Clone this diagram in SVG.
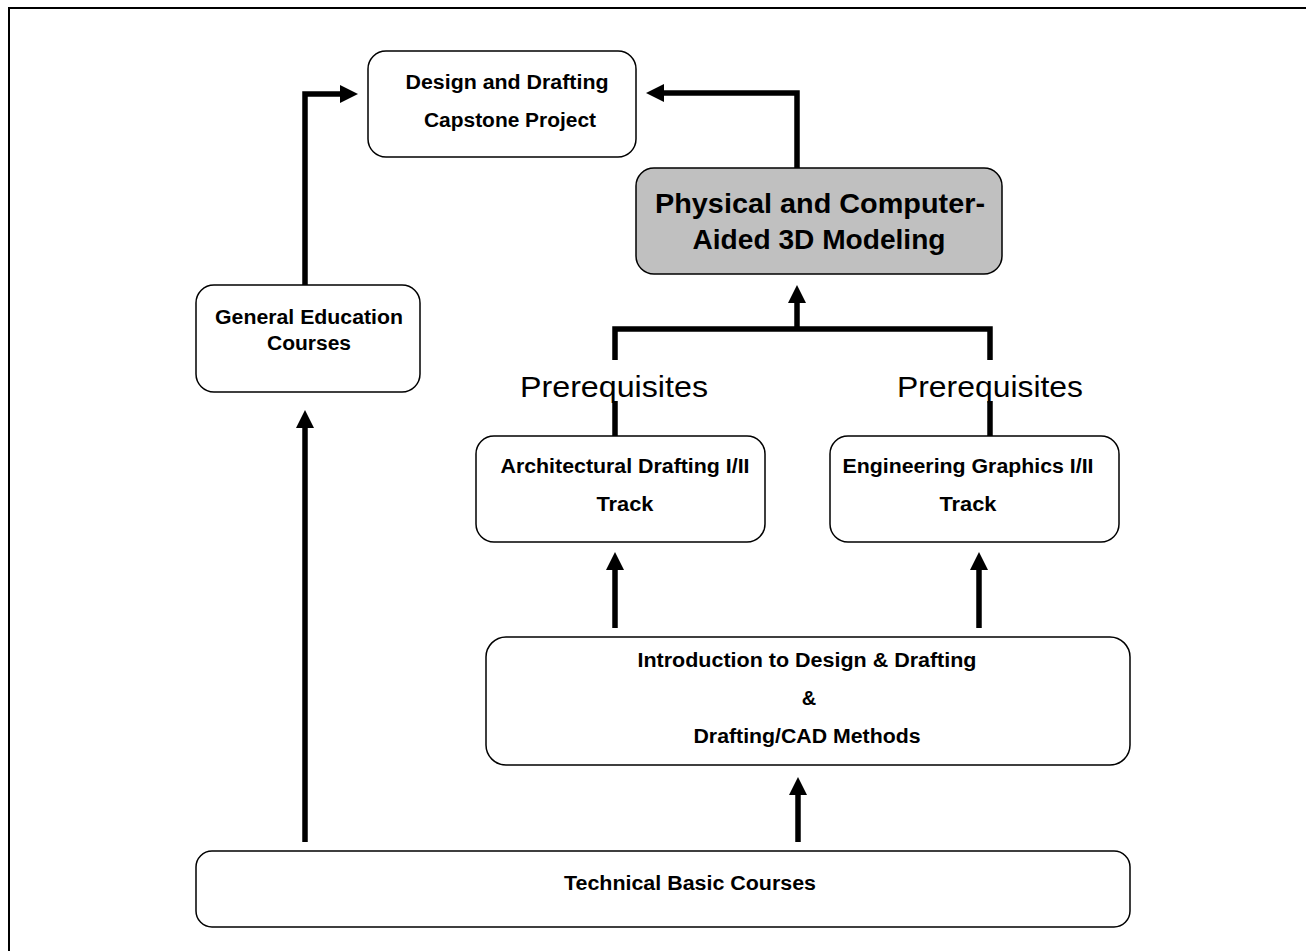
<svg xmlns="http://www.w3.org/2000/svg" width="1306" height="951" viewBox="0 0 1306 951">
<style>
.box{fill:#ffffff;stroke:#000;stroke-width:1.5}
.hl{fill:#c0c0c0;stroke:#000;stroke-width:1.5}
.t{font-family:"Liberation Sans",Arial,sans-serif;font-weight:bold;font-size:20px;fill:#000;text-anchor:middle}
.big{font-size:27px}
.pre{font-family:"Liberation Sans",Arial,sans-serif;font-size:30px;fill:#000;text-anchor:middle}
.c{fill:none;stroke:#000;stroke-width:5.5}
</style>
<defs>
<marker id="ah" markerUnits="userSpaceOnUse" markerWidth="20" markerHeight="20" refX="0" refY="9" orient="auto" overflow="visible">
<path d="M0,0 L18,9 L0,18 Z" fill="#000"/>
</marker>
</defs>
<rect x="9" y="8" width="1320" height="980" fill="none" stroke="#000" stroke-width="2"/>
<g id="connectors">
<path class="c" d="M305,286 L305,94 L340,94" marker-end="url(#ah)"/>
<path class="c" d="M797,168 L797,93 L664,93" marker-end="url(#ah)"/>
<path class="c" d="M615,360 L615,329 L990,329 L990,360"/>
<path class="c" d="M797,329 L797,303" marker-end="url(#ah)"/>
<path class="c" d="M615,401 L615,436"/>
<path class="c" d="M990,401 L990,436"/>
<path class="c" d="M615,628 L615,570" marker-end="url(#ah)"/>
<path class="c" d="M979,628 L979,570" marker-end="url(#ah)"/>
<path class="c" d="M798,842 L798,795" marker-end="url(#ah)"/>
<path class="c" d="M305,842 L305,428" marker-end="url(#ah)"/>
</g>
<g id="capstone">
<rect class="box" x="368" y="51" width="268" height="106" rx="18"/>
<text class="t" x="507" y="89" textLength="203" lengthAdjust="spacingAndGlyphs">Design and Drafting</text>
<text class="t" x="510" y="127" textLength="172" lengthAdjust="spacingAndGlyphs">Capstone Project</text>
</g>
<g id="modeling">
<rect class="hl" x="636" y="168" width="366" height="106" rx="18"/>
<text class="t big" x="820" y="213" textLength="330" lengthAdjust="spacingAndGlyphs">Physical and Computer-</text>
<text class="t big" x="819" y="249" textLength="253" lengthAdjust="spacingAndGlyphs">Aided 3D Modeling</text>
</g>
<g id="gened">
<rect class="box" x="196" y="285" width="224" height="107" rx="18"/>
<text class="t" x="309" y="324" textLength="188" lengthAdjust="spacingAndGlyphs">General Education</text>
<text class="t" x="309" y="350" textLength="84" lengthAdjust="spacingAndGlyphs">Courses</text>
</g>
<g id="prereq-labels">
<text class="pre" x="614" y="397" textLength="188" lengthAdjust="spacingAndGlyphs">Prerequisites</text>
<text class="pre" x="990" y="397" textLength="186" lengthAdjust="spacingAndGlyphs">Prerequisites</text>
</g>
<g id="arch">
<rect class="box" x="476" y="436" width="289" height="106" rx="18"/>
<text class="t" x="625" y="473" textLength="249" lengthAdjust="spacingAndGlyphs">Architectural Drafting I/II</text>
<text class="t" x="625" y="511" textLength="57" lengthAdjust="spacingAndGlyphs">Track</text>
</g>
<g id="eng">
<rect class="box" x="830" y="436" width="289" height="106" rx="18"/>
<text class="t" x="968" y="473" textLength="251" lengthAdjust="spacingAndGlyphs">Engineering Graphics I/II</text>
<text class="t" x="968" y="511" textLength="57" lengthAdjust="spacingAndGlyphs">Track</text>
</g>
<g id="intro">
<rect class="box" x="486" y="637" width="644" height="128" rx="20"/>
<text class="t" x="807" y="667" textLength="339" lengthAdjust="spacingAndGlyphs">Introduction to Design &amp; Drafting</text>
<text class="t" x="809" y="705">&amp;</text>
<text class="t" x="807" y="743" textLength="227" lengthAdjust="spacingAndGlyphs">Drafting/CAD Methods</text>
</g>
<g id="technical">
<rect class="box" x="196" y="851" width="934" height="76" rx="16"/>
<text class="t" x="690" y="890" textLength="252" lengthAdjust="spacingAndGlyphs">Technical Basic Courses</text>
</g>
</svg>
